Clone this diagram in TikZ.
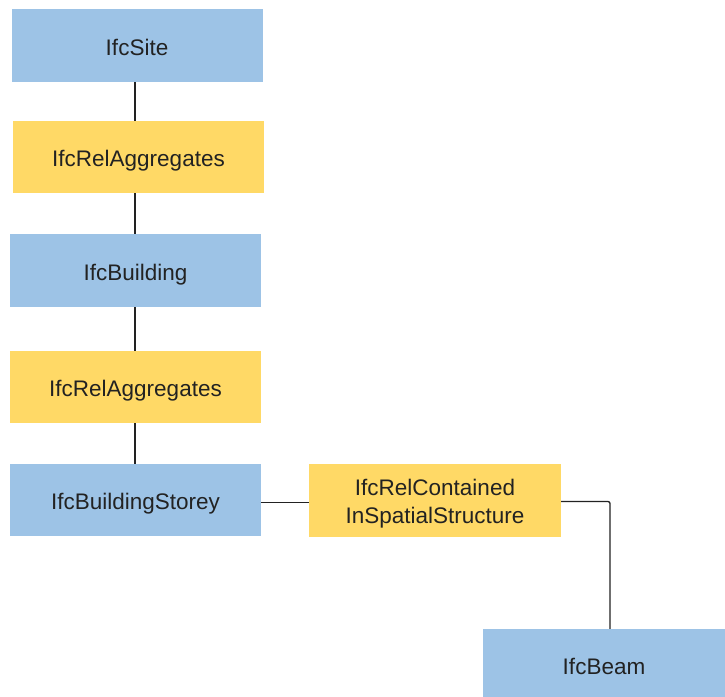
\documentclass[tikz,border=0pt]{standalone}
\usepackage{fontspec}
\setmainfont{Liberation Sans}
\definecolor{entblue}{HTML}{9DC3E6}
\definecolor{relyellow}{HTML}{FFD966}
\definecolor{ink}{HTML}{222222}
\begin{document}
\begin{tikzpicture}[x=1pt,y=-1pt,
  entity/.style={fill=entblue, draw=none, minimum width=251pt, minimum height=73pt,
    inner sep=0pt, align=center, text=ink, font=\fontsize{22.5}{28}\selectfont,
    text height=19pt, text depth=0pt},
  relation/.style={entity, fill=relyellow},
  link/.style={draw=ink, line width=1.3pt}]
\useasboundingbox (0,0) rectangle (725,696);
\clip (0,0) rectangle (725,696);

% spatial hierarchy
\node[entity]   (site)      at (137,45.5)  {IfcSite};
\node[relation, minimum height=72pt] (agg1) at (138.5,157) {IfcRelAggregates};
\node[entity]   (building)  at (135.5,270.5) {IfcBuilding};
\node[relation, minimum height=72pt] (agg2) at (135.5,387) {IfcRelAggregates};
\node[entity, minimum height=72pt] (storey) at (135.5,500) {IfcBuildingStorey};
\node[relation, minimum width=252pt, text height=45pt, text depth=0pt] (contained) at (435,500.5)
  {IfcRelContained\\InSpatialStructure};
\node[entity, minimum width=242pt, minimum height=72pt] (beam) at (604,665) {IfcBeam};

% vertical trunk
\coordinate (trunk) at (135,0);
\draw[link] (site.south -| trunk) -- (agg1.north -| trunk);
\draw[link] (agg1.south -| trunk) -- (building.north -| trunk);
\draw[link] (building.south -| trunk) -- (agg2.north -| trunk);
\draw[link] (agg2.south -| trunk) -- (storey.north -| trunk);

% containment branch
\draw[link] ([yshift=-2.5pt]storey.east) -- ([yshift=-2.5pt]storey.east -| contained.west);
\draw[link, rounded corners=2pt] ([yshift=-1pt]contained.east) -| ([xshift=6pt]beam.north);
\end{tikzpicture}
\end{document}
